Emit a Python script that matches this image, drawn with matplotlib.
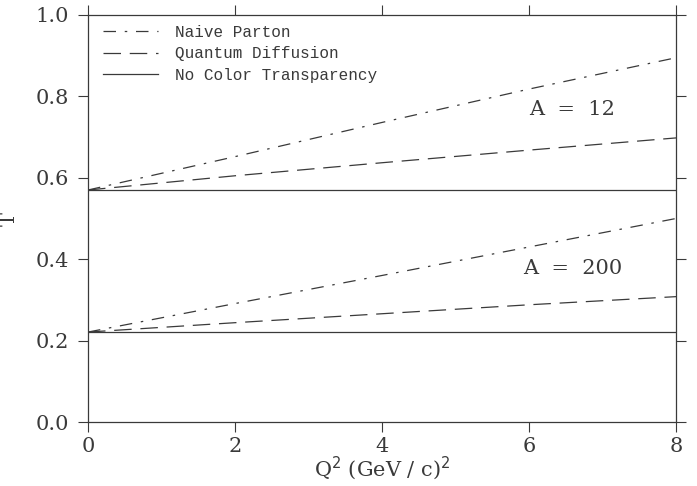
import numpy as np
import matplotlib
matplotlib.use("Agg")
import matplotlib.pyplot as plt

# Q^2 in (GeV/c)^2
q2 = [0, 2, 4, 6, 8]

# A = 12
naive_12 = [0.570, 0.652, 0.736, 0.818, 0.895]
qdiff_12 = [0.570, 0.605, 0.637, 0.668, 0.698]
noct_12 = [0.570, 0.570, 0.570, 0.570, 0.570]

# A = 200
naive_200 = [0.221, 0.291, 0.360, 0.430, 0.500]
qdiff_200 = [0.221, 0.244, 0.266, 0.288, 0.308]
noct_200 = [0.221, 0.221, 0.221, 0.221, 0.221]

plt.rcParams['font.family'] = ['DejaVu Serif']
col = '#3a3a3a'

fig = plt.figure(figsize=(6.97, 4.86), dpi=100)
ax = fig.add_axes([88/697, 64/486, 588/697, 407/486])

dd = (0, (10, 7, 2, 7))
da = (0, (14, 7))
ax.plot(q2, naive_12, color=col, lw=0.9, linestyle=dd, label='Naive Parton')
ax.plot(q2, qdiff_12, color=col, lw=0.9, linestyle=da, label='Quantum Diffusion')
ax.plot(q2, noct_12, color=col, lw=0.9, linestyle='-', label='No Color Transparency')
ax.plot(q2, naive_200, color=col, lw=0.9, linestyle=dd)
ax.plot(q2, qdiff_200, color=col, lw=0.9, linestyle=da)
ax.plot(q2, noct_200, color=col, lw=0.9, linestyle='-')

ax.text(6.59, 0.767, 'A  =  12', fontsize=15, color=col, ha='center', va='center')
ax.text(6.59, 0.378, 'A  =  200', fontsize=15, color=col, ha='center', va='center')

ax.set_xlim(0, 8)
ax.set_ylim(0, 1.0)
ax.set_xticks([0, 2, 4, 6, 8])
ax.set_yticks([0.0, 0.2, 0.4, 0.6, 0.8, 1.0])
ax.set_yticklabels(['0.0', '0.2', '0.4', '0.6', '0.8', '1.0'])
ax.tick_params(direction='out', length=7.5, width=0.8, color=col, labelcolor=col,
               labelsize=15, top=True, right=True)
ax.tick_params(axis='x', pad=3)
ax.tick_params(axis='y', pad=6)
for s in ax.spines.values():
    s.set_color(col)
    s.set_linewidth(0.9)

ax.set_xlabel(r'Q$^2$ (GeV / c)$^2$', fontsize=15, color=col, labelpad=-1)
fig.text(9/697, 0.55, 'T', rotation=90, fontsize=15, color=col, ha='center', va='center')

leg = ax.legend(loc='upper left', frameon=False, handlelength=3.4,
                handletextpad=1.1, labelspacing=0.42, borderaxespad=0.2,
                bbox_to_anchor=(0.01, 1.0),
                prop={'family': 'Liberation Mono', 'size': 11.5})
for t in leg.get_texts():
    t.set_color(col)

fig.savefig('out.png', dpi=100)
